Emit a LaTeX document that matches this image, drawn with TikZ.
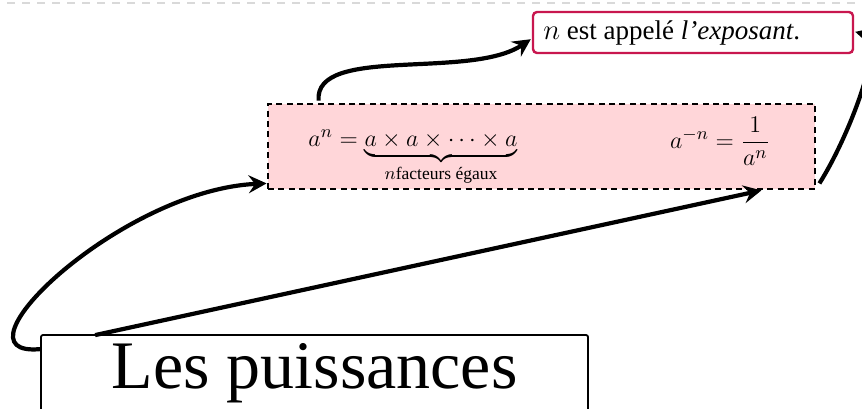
\documentclass[tikz,border=0pt]{standalone}
\usepackage{amsmath}
\usepackage{fontspec}
\setmainfont{Liberation Serif}
\usetikzlibrary{arrows.meta,calc}
\definecolor{crim}{HTML}{C8174F}
\definecolor{pinkf}{HTML}{FFD6D9}
\begin{document}
\begin{tikzpicture}[x=0.5pt,y=-0.5pt,
  conn/.style={line width=2.1pt,-{Stealth[length=9pt,width=9pt,inset=3.2pt]}},
  expobox/.style={draw=crim,line width=1.2pt,rounded corners=2pt,fill=white,minimum width=160pt,minimum height=20.5pt,inner sep=0pt},
  formbox/.style={draw,line width=1.4pt,dash pattern=on 3pt off 2.2pt,fill=pinkf,minimum width=273.5pt,minimum height=42.5pt,inner sep=0pt},
  titlebox/.style={draw,line width=0.9pt,rounded corners=1pt,fill=white,minimum width=273.5pt,minimum height=38pt,inner sep=0pt},
  txt/.style={font=\fontsize{13.5}{16}\selectfont,inner sep=0pt},
  mth/.style={font=\fontsize{12.5}{15}\selectfont,inner sep=0pt}]
\useasboundingbox (0,0) rectangle (862,408);
\clip (0,0) rectangle (862,408);
\draw[gray!30,line width=0.75pt,dash pattern=on 4pt off 3.5pt] (7,3) -- (862,3);
\node[expobox] (expo) at (693,32.5) {};
\node[txt,anchor=west] (expotxt) at (543,33) {$n$ est appelé \textit{l'exposant}.};
\node[formbox] (form) at (541.5,146.5) {};
\node[mth] (f1) at (413,158) {$a^n=\underbrace{a\times a\times\cdots\times a}_{\text{$n$facteurs égaux}}$};
\node[mth] (f2) at (720,141) {$a^{-n}=\dfrac{1}{a^n}$};
\node[titlebox,font=\fontsize{34}{40}\selectfont] (title) at (314.5,373) {Les puissances};
\draw[conn] ($(title.north west)+(0,15)$) .. controls (-55,358) and (120,190) .. ($(form.south west)+(0,-7)$);
\draw[conn] ($(title.north west)+(55,1)$) -- ($(form.south east)+(-55,0)$);
\draw[conn] ($(form.north west)+(52,-2)$) .. controls (314,45) and (470,80) .. ($(expo.south west)+(-1,-15)$);
\draw[conn] ($(form.south east)+(3,-7)$) .. controls (850,135) and (885,40) .. ($(expo.north east)+(1,21)$);
\end{tikzpicture}
\end{document}
